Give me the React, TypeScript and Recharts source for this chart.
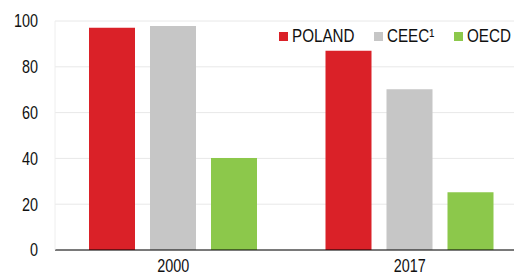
import { Bar, BarChart, CartesianGrid, XAxis, YAxis } from "recharts";

const years = ["2000", "2017"];
const poland = [97, 87];
const ceec = [97.8, 70.2];
const oecd = [40.2, 25.2];
const yTicks = [0, 20, 40, 60, 80, 100];

const series = [
  { key: "poland", label: "POLAND", color: "#da2128" },
  { key: "ceec", label: "CEEC\u00b9", color: "#c6c6c6" },
  { key: "oecd", label: "OECD", color: "#8cc84b" },
];

const data = years.map((year, i) => ({
  year,
  poland: poland[i],
  ceec: ceec[i],
  oecd: oecd[i],
}));

const FONT = "'Liberation Sans', Arial, sans-serif";
const SQUEEZE = 0.8;

// narrow-looking tick labels (no Arial Narrow available)
function YTick(props: any) {
  const { x, y, payload } = props;
  return (
    <text
      transform={`translate(${x},${y}) scale(${SQUEEZE},1)`}
      textAnchor="end"
      dy="0.36em"
      fontSize={18}
      fill="#111"
      fontFamily={FONT}
    >
      {payload.value}
    </text>
  );
}

function XTick(props: any) {
  const { x, y, payload } = props;
  return (
    <text
      transform={`translate(${x},${y}) scale(${SQUEEZE},1)`}
      textAnchor="middle"
      dy="0.71em"
      fontSize={18}
      fill="#111"
      fontFamily={FONT}
    >
      {payload.value}
    </text>
  );
}

function LegendBox() {
  return (
    <div
      style={{
        position: "absolute",
        left: 279,
        top: 26,
        display: "flex",
        alignItems: "center",
        fontFamily: FONT,
        fontSize: 19,
        color: "#111",
      }}
    >
      {series.map((s, i) => (
        <div key={s.key} style={{ display: "flex", alignItems: "center", marginLeft: i === 0 ? 0 : 19 }}>
          <span style={{ width: 9, height: 9, background: s.color, display: "inline-block", marginRight: 4 }} />
          <span
            style={{
              display: "inline-block",
              lineHeight: "20px",
              whiteSpace: "nowrap",
              transform: `scaleX(${SQUEEZE})`,
              transformOrigin: "left center",
              width: s.label === "POLAND" ? 63 : s.label === "OECD" ? 46 : 48,
            }}
          >
            {s.label}
          </span>
        </div>
      ))}
    </div>
  );
}

export default function App() {
  return (
    <div style={{ position: "absolute", left: 0, top: 0, width: 514, height: 276, overflow: "hidden", background: "#fff" }}>
      <BarChart
        width={528}
        height={276}
        data={data}
        margin={{ top: 21, right: 0, left: 0, bottom: 0 }}
        barCategoryGap={34}
        barGap={15}
      >
        <CartesianGrid vertical={false} stroke="#e8e8e8" />
        <XAxis
          dataKey="year"
          height={26}
          tickSize={0}
          tickMargin={9}
          axisLine={{ stroke: "#000", strokeWidth: 1 }}
          tick={<XTick />}
        />
        <YAxis
          width={55}
          domain={[0, 100]}
          ticks={yTicks}
          tickSize={0}
          tickMargin={17}
          axisLine={{ stroke: "#eeeeee" }}
          tick={<YTick />}
        />
        {series.map((s) => (
          <Bar key={s.key} dataKey={s.key} fill={s.color} isAnimationActive={false} />
        ))}
      </BarChart>
      <LegendBox />
    </div>
  );
}
